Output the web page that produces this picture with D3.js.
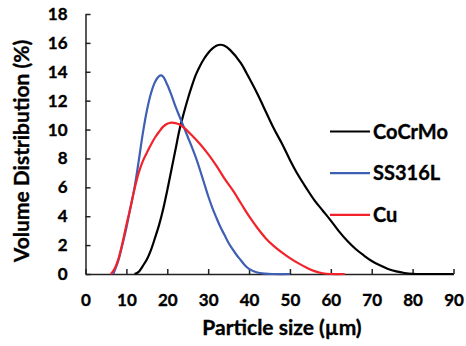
<!DOCTYPE html>
<html>
<head>
<meta charset="utf-8">
<script src="https://cdn.jsdelivr.net/npm/d3@7"></script>
<style>
  body { margin: 0; background: #fff; }
  svg text { font-family: Lato, "Open Sans", sans-serif; font-weight: bold; fill: #000; stroke: #000; stroke-width: 0.35px; }
</style>
</head>
<body>
<svg width="466" height="346"></svg>
<script>
// particle size distributions (size in um, volume %)
const cocrmoSize = [12, 13, 14, 15, 16, 17, 18, 19, 20, 21, 22, 23, 24, 25, 26, 27, 28, 29, 30, 31, 32, 33, 34, 35.4, 38, 39.4, 42, 43.5, 46, 48, 50, 52, 54, 56, 58, 60, 62, 64, 66, 68, 70, 72, 74, 76, 78, 80, 85, 90]
const cocrmoVol = [0, 0.15, 0.55, 1.0, 1.65, 2.5, 3.4, 4.5, 5.8, 7.2, 8.6, 10.0, 11.1, 12.1, 13.0, 13.8, 14.4, 14.9, 15.3, 15.6, 15.8, 15.87, 15.8, 15.5, 14.6, 13.9, 12.5, 11.6, 10.1, 9.05, 7.9, 6.85, 5.95, 5.1, 4.4, 3.7, 2.95, 2.3, 1.75, 1.3, 0.9, 0.6, 0.35, 0.18, 0.07, 0.01, 0, 0]

const ssSize = [6.8, 8, 9, 10, 11, 12, 13, 14, 15, 16, 17, 18, 18.5, 19, 20, 21, 22, 23, 24, 25, 26, 27, 28, 29, 30, 31, 32, 33, 34, 35, 36, 37, 38, 39, 40, 42, 44, 46, 50]
const ssVol = [0, 0.9, 2.0, 3.2, 4.6, 6.0, 7.8, 9.7, 11.3, 12.5, 13.3, 13.7, 13.75, 13.65, 13.1, 12.4, 11.6, 10.9, 10.2, 9.5, 8.8, 8.05, 7.2, 6.3, 5.4, 4.6, 3.9, 3.25, 2.7, 2.15, 1.7, 1.3, 0.95, 0.6, 0.35, 0.1, 0.02, 0, 0]

const cuSize = [6.2, 7, 8, 9, 10, 11, 12, 13, 14, 15, 16, 17, 18, 19, 20, 21, 22, 23, 24, 26, 28, 30, 32, 34, 36, 38, 40, 42, 44, 46, 48, 50, 52, 54, 56, 58, 60, 63.4]
const cuVol = [0, 0.3, 1.0, 2.1, 3.4, 4.6, 5.9, 7.0, 7.8, 8.4, 8.95, 9.45, 9.85, 10.2, 10.4, 10.48, 10.45, 10.35, 10.15, 9.6, 9.0, 8.3, 7.5, 6.6, 5.8, 4.9, 4.0, 3.2, 2.5, 1.95, 1.5, 1.1, 0.75, 0.45, 0.2, 0.05, 0, 0]

const seriesNames = ["CoCrMo", "SS316L", "Cu"]
const seriesColors = ["#000000", "#3f5fb5", "#f2222a"]
const xTicks = [0, 10, 20, 30, 40, 50, 60, 70, 80, 90]
const yTicks = [0, 2, 4, 6, 8, 10, 12, 14, 16, 18]

const series = [
  cocrmoSize.map((s, i) => [s, cocrmoVol[i]]),
  ssSize.map((s, i) => [s, ssVol[i]]),
  cuSize.map((s, i) => [s, cuVol[i]]),
]

const svg = d3.select("svg")

const x = d3.scaleLinear().domain([0, 90]).range([85.5, 453.5])
const y = d3.scaleLinear().domain([0, 18]).range([274, 14])

// axes: ticks point inward
svg.append("g")
  .attr("transform", "translate(0," + y(0) + ")")
  .call(d3.axisBottom(x).tickValues(xTicks).tickSizeInner(-5).tickSizeOuter(0).tickPadding(20))
svg.append("g")
  .attr("transform", "translate(" + x(0) + ",0)")
  .call(d3.axisLeft(y).tickValues(yTicks).tickSizeInner(-5).tickSizeOuter(0).tickPadding(18))

svg.selectAll(".domain, .tick line").attr("stroke", "#222").attr("stroke-width", 1.5)
svg.selectAll(".tick text").attr("font-size", 17).attr("font-family", null)

const line = d3.line()
  .x((d) => x(d[0]))
  .y((d) => y(d[1]))
  .curve(d3.curveCatmullRom.alpha(0.5))

svg.selectAll(".series")
  .data(series)
  .enter()
  .append("path")
  .attr("class", "series")
  .attr("fill", "none")
  .attr("stroke", (d, i) => seriesColors[i])
  .attr("stroke-width", 2.2)
  .attr("d", line)

// legend
const legend = svg.append("g")
seriesNames.forEach((name, i) => {
  const ly = 131.5 + i * 41.7
  legend.append("line")
    .attr("x1", 330).attr("x2", 370)
    .attr("y1", ly).attr("y2", ly)
    .attr("stroke", seriesColors[i])
    .attr("stroke-width", 2.2)
  legend.append("text")
    .attr("x", 373).attr("y", ly)
    .attr("dy", "0.36em")
    .attr("font-size", 20)
    .text(name)
})

// axis titles
svg.append("text")
  .attr("x", 282).attr("y", 335)
  .attr("text-anchor", "middle")
  .attr("font-size", 21)
  .text("Particle size (µm)")

svg.append("text")
  .attr("transform", "translate(29,151) rotate(-90)")
  .attr("text-anchor", "middle")
  .attr("font-size", 21)
  .text("Volume Distribution (%)")
</script>
</body>
</html>
